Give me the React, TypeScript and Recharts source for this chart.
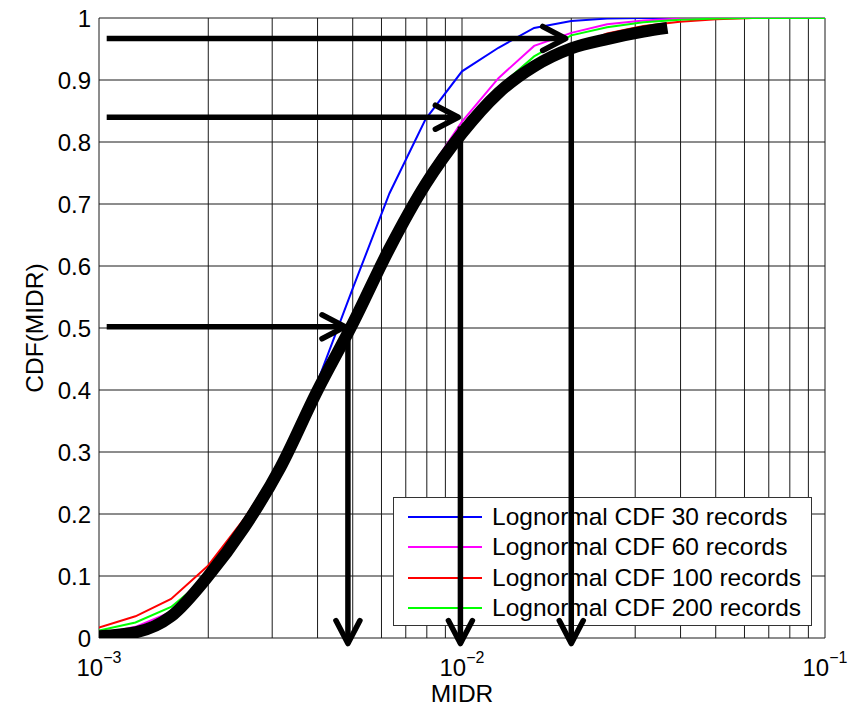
import React from "react";
import {
  LineChart,
  Line,
  XAxis,
  YAxis,
  CartesianGrid,
  Legend,
  ReferenceLine,
} from "recharts";

const FONT = "'Liberation Sans', Arial, sans-serif";

// MIDR sample points (0.1 decade steps)
const midr = [
  0.001, 0.00126, 0.00158, 0.002, 0.00251, 0.00316, 0.00398, 0.00501, 0.00631,
  0.00794, 0.01, 0.0126, 0.0158, 0.02, 0.0251, 0.0316, 0.0398, 0.0501, 0.0631,
  0.0794, 0.1,
];
const cdf30 = [
  0.002, 0.008, 0.033, 0.097, 0.176, 0.28, 0.41, 0.565, 0.717, 0.837, 0.914,
  0.952, 0.984, 0.995, 0.999, 1, 1, 1, 1, 1, 1,
];
const cdf60 = [
  0.006, 0.018, 0.042, 0.097, 0.176, 0.278, 0.4, 0.522, 0.643, 0.745, 0.833,
  0.903, 0.955, 0.976, 0.99, 0.996, 0.999, 1, 1, 1, 1,
];
const cdf100 = [
  0.017, 0.035, 0.063, 0.117, 0.192, 0.282, 0.39, 0.5, 0.62, 0.725, 0.81, 0.878,
  0.922, 0.953, 0.975, 0.987, 0.994, 0.998, 1, 1, 1,
];
const cdf200 = [
  0.012, 0.025, 0.05, 0.1, 0.176, 0.276, 0.398, 0.515, 0.632, 0.737, 0.82,
  0.888, 0.938, 0.972, 0.985, 0.993, 0.997, 0.999, 1, 1, 1,
];

// thick black curve
const thickMidr = [
  0.001, 0.00126, 0.00158, 0.002, 0.00251, 0.00316, 0.00398, 0.00501, 0.00631,
  0.00794, 0.01, 0.0126, 0.0158, 0.02, 0.0251, 0.0316, 0.0368,
];
const thickCdf = [
  0.003, 0.009, 0.035, 0.1, 0.178, 0.275, 0.397, 0.508, 0.628, 0.732, 0.814,
  0.879, 0.922, 0.951, 0.966, 0.978, 0.984,
];

// arrows: horizontal from left edge to curve, then down to the axis
const arrowStartMidr = 0.00105;
const arrowCdf = [0.502, 0.84, 0.967];
const arrowTipMidr = [0.00476, 0.00977, 0.0193];
const dropMidr = [0.00485, 0.0099, 0.02];
const dropStartCdf = [0.48, 0.825, 0.95];
const dropEndCdf = -0.009;

const gridTicks = [
  0.001, 0.002, 0.003, 0.004, 0.005, 0.006, 0.007, 0.008, 0.009, 0.01, 0.02,
  0.03, 0.04, 0.05, 0.06, 0.07, 0.08, 0.09, 0.1,
];
const yTicks = [0, 0.1, 0.2, 0.3, 0.4, 0.5, 0.6, 0.7, 0.8, 0.9, 1];

const series = [
  { name: "Lognormal CDF 30 records", color: "#0000ff", values: cdf30 },
  { name: "Lognormal CDF 60 records", color: "#ff00ff", values: cdf60 },
  { name: "Lognormal CDF 100 records", color: "#ff0000", values: cdf100 },
  { name: "Lognormal CDF 200 records", color: "#00ff00", values: cdf200 },
];

const toPoints = (xs: number[], ys: number[]) =>
  xs.map((x, i) => ({ x, y: ys[i] }));

const DecadeTick = (props: any) => {
  const { x, payload } = props;
  const lg = Math.log10(payload.value);
  const exp = Math.round(lg);
  if (Math.abs(lg - exp) > 1e-6) return <g />;
  return (
    <text x={x} y={676} textAnchor="middle" fontSize={24} fontFamily={FONT} fill="#000">
      <tspan>10</tspan>
      <tspan dy={-13} fontSize={16}>{`\u2212${-exp}`}</tspan>
    </text>
  );
};

const arrowShape = (p: any) => {
  const { x1, y1, x2, y2 } = p;
  const dx = x2 - x1;
  const dy = y2 - y1;
  const len = Math.hypot(dx, dy) || 1;
  const ux = dx / len;
  const uy = dy / len;
  const bx = x2 - ux * 23;
  const by = y2 - uy * 23;
  return (
    <g>
      <line x1={x1} y1={y1} x2={x2} y2={y2} stroke="#000" strokeWidth={5.5} />
      <polyline
        points={`${bx - uy * 12},${by + ux * 12} ${x2},${y2} ${bx + uy * 12},${by - ux * 12}`}
        fill="none"
        stroke="#000"
        strokeWidth={5.5}
        strokeLinecap="round"
        strokeLinejoin="round"
      />
    </g>
  );
};

const LegendBox = () => (
  <div
    style={{
      width: 419,
      height: 129,
      border: "1px solid #333",
      boxSizing: "border-box",
      background: "#fff",
      position: "relative",
      fontFamily: FONT,
      fontSize: 24.5,
      color: "#000",
    }}
  >
    {series.map((s, i) => (
      <div
        key={s.name}
        style={{
          position: "absolute",
          left: 0,
          top: 4 + i * 30.3,
          height: 30,
          display: "flex",
          alignItems: "center",
          whiteSpace: "nowrap",
        }}
      >
        <span style={{ marginLeft: 14, width: 74, height: 2, background: s.color }} />
        <span style={{ marginLeft: 10, lineHeight: "30px" }}>{s.name}</span>
      </div>
    ))}
  </div>
);

export default function App() {
  return (
    <div style={{ position: "absolute", left: 0, top: 0, width: 858, height: 708, background: "#fff" }}>
      {/* base chart: grid, axes, coloured curves, legend */}
      <div style={{ position: "absolute", left: 0, top: 0 }}>
        <LineChart width={858} height={708} margin={{ top: 18, right: 33, bottom: 30, left: 0 }}>
          <CartesianGrid stroke="#1a1a1a" strokeWidth={1} />
          <XAxis
            dataKey="x"
            type="number"
            scale="log"
            domain={[0.001, 0.1]}
            allowDataOverflow
            ticks={gridTicks}
            interval={0}
            height={40}
            tickLine={false}
            axisLine={false}
            tick={<DecadeTick />}
            label={{
              value: "MIDR",
              content: () => (
                <text x={462} y={702} textAnchor="middle" fontSize={24.5} fontFamily={FONT} fill="#000">
                  MIDR
                </text>
              ),
            }}
          />
          <YAxis
            type="number"
            domain={[0, 1]}
            allowDataOverflow
            ticks={yTicks}
            interval={0}
            width={99}
            tickLine={false}
            axisLine={false}
            tickFormatter={(v: number) => (v === 0 || v === 1 ? String(v) : v.toFixed(1))}
            tick={{ fontSize: 24, fontFamily: FONT, fill: "#000" }}
            label={{
              value: "CDF(MIDR)",
              content: () => (
                <text
                  x={34}
                  y={328}
                  transform="rotate(-90 34 328)"
                  textAnchor="middle"
                  dominantBaseline="central"
                  fontSize={24.5}
                  fontFamily={FONT}
                  fill="#000"
                >
                  CDF(MIDR)
                </text>
              ),
            }}
          />
          {series.map((s) => (
            <Line
              key={s.name}
              data={toPoints(midr, s.values)}
              dataKey="y"
              name={s.name}
              stroke={s.color}
              strokeWidth={2}
              dot={false}
              type="linear"
              isAnimationActive={false}
            />
          ))}
          <Legend
            layout="vertical"
            align="center"
            verticalAlign="middle"
            width={419}
            height={129}
            wrapperStyle={{ left: 393, top: 497, width: 419, height: 129 }}
            content={() => <LegendBox />}
          />
        </LineChart>
      </div>
      {/* overlay: thick black curve and arrows above the legend */}
      <div style={{ position: "absolute", left: 0, top: 0 }}>
        <LineChart width={858} height={708} margin={{ top: 18, right: 33, bottom: 70, left: 99 }}>
          <XAxis dataKey="x" type="number" scale="log" domain={[0.001, 0.1]} allowDataOverflow hide />
          <YAxis type="number" domain={[0, 1]} allowDataOverflow hide />
          <Line
            data={toPoints(thickMidr, thickCdf)}
            dataKey="y"
            stroke="#000"
            strokeWidth={12}
            dot={false}
            type="monotone"
            legendType="none"
            isAnimationActive={false}
          />
          {arrowCdf.map((c, i) => (
            <ReferenceLine
              key={`h${i}`}
              segment={[
                { x: arrowStartMidr, y: c },
                { x: arrowTipMidr[i], y: c },
              ]}
              ifOverflow="visible"
              shape={arrowShape}
            />
          ))}
          {dropMidr.map((m, i) => (
            <ReferenceLine
              key={`v${i}`}
              segment={[
                { x: m, y: dropStartCdf[i] },
                { x: m, y: dropEndCdf },
              ]}
              ifOverflow="visible"
              shape={arrowShape}
            />
          ))}
        </LineChart>
      </div>
    </div>
  );
}
